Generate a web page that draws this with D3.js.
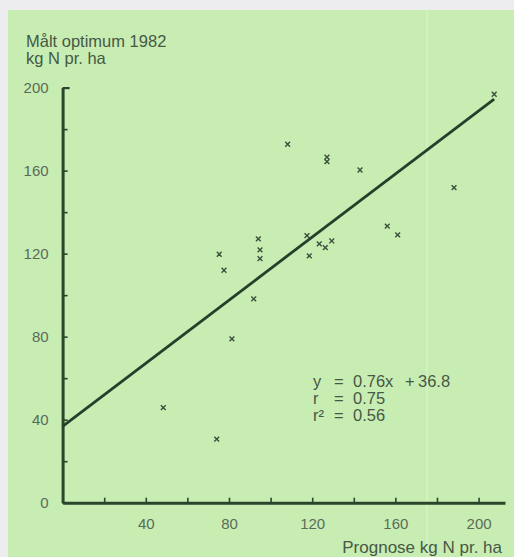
<!DOCTYPE html>
<html>
<head>
<meta charset="utf-8">
<script src="https://cdn.jsdelivr.net/npm/d3@7"></script>
<style>
  html, body { margin: 0; padding: 0; background: #ededf0; }
  svg { display: block; }
  text { font-family: "Liberation Sans", Arial, Helvetica, sans-serif; }
</style>
</head>
<body>
<svg id="chart" width="514" height="557"></svg>
<script>
// Prognosed vs measured nitrogen optimum (kg N per ha), 1982
const prognose = [108.2, 127.1, 127.1, 143.0, 156.1, 161.1, 94.1, 117.5, 123.4, 126.3, 129.4,
                  94.9, 94.9, 75.3, 77.6, 118.6, 91.9, 188.2, 207.5, 48.4, 74.1, 81.4];
const maalt    = [172.7, 166.5, 164.3, 160.3, 133.3, 129.0, 127.1, 128.7, 124.7, 122.9, 126.1,
                  121.8, 117.6, 119.7, 112.0, 118.9, 98.2, 151.8, 196.8, 45.8, 30.6, 78.9];

// Regression line y = slope * x + intercept
const slope = 0.76;
const intercept = 36.8;
const lineRange = [0, 207.5];

// Each statistic line: left-hand symbol and right-hand pieces with their x offsets
const statLines = [
  { lhs: "y", rhs: [["0.76x", 0], ["+", 52], ["36.8", 65]] },
  { lhs: "r", rhs: [["0.75", 0]] },
  { lhs: "r²", rhs: [["0.56", 0]] }
];

const yTicks = [0, 20, 40, 60, 80, 100, 120, 140, 160, 180, 200];
const xTicks = [20, 40, 60, 80, 100, 120, 140, 160, 180, 200];
const yTitle = ["Målt optimum 1982", "kg N pr. ha"];
const xTitle = "Prognose kg N pr. ha";

const svg = d3.select("#chart");
const ink = "#2b452b";
const textCol = "#475845";
const tickCol = "#5b6b58";

// paper panel
svg.append("rect").attr("x", 8).attr("y", 10).attr("width", 506).attr("height", 547)
  .attr("fill", "#c7edb3");
// faint fold line in the paper
svg.append("line").attr("x1", 427).attr("x2", 427).attr("y1", 10).attr("y2", 557)
  .attr("stroke", "#e2f4d6").attr("stroke-width", 1.2).attr("opacity", 0.8);

const x = d3.scaleLinear().domain([0, 212.7]).range([62.6, 505]);
const y = d3.scaleLinear().domain([0, 200]).range([502.7, 87.6]);

// y axis
const yAxis = d3.axisLeft(y)
  .tickValues(yTicks)
  .tickSizeInner(-5)
  .tickSizeOuter(0)
  .tickPadding(13)
  .tickFormat(d => d % 40 === 0 ? d : "");
const gy = svg.append("g").attr("transform", `translate(${x(0)},0)`).call(yAxis);
gy.attr("font-family", null).attr("font-size", null);
gy.select(".domain").attr("stroke", ink).attr("stroke-width", 3);
gy.selectAll(".tick line").attr("stroke", ink).attr("stroke-width", 1.6);
gy.selectAll(".tick").filter(d => d === 200).select("line").attr("x2", 7).attr("stroke-width", 2.2);
gy.selectAll(".tick text").attr("fill", tickCol).attr("font-size", 15).attr("x", -14);

// x axis
const xAxis = d3.axisBottom(x)
  .tickValues(xTicks)
  .tickSizeInner(-5)
  .tickSizeOuter(0)
  .tickFormat(d => d % 40 === 0 ? d : "");
const gx = svg.append("g").attr("transform", `translate(0,${y(0)})`).call(xAxis);
gx.attr("font-family", null).attr("font-size", null);
gx.select(".domain").attr("stroke", ink).attr("stroke-width", 3);
gx.selectAll(".tick line").attr("stroke", ink).attr("stroke-width", 1.6);
gx.selectAll(".tick text").attr("fill", tickCol).attr("font-size", 15)
  .attr("dy", null).attr("y", 26.5);

// axis titles
svg.append("text").attr("x", 26).attr("y", 47).attr("font-size", 16.5).attr("fill", textCol)
  .selectAll("tspan").data(yTitle).join("tspan")
  .attr("x", 26).attr("dy", (d, i) => i === 0 ? 0 : 17).text(d => d);
svg.append("text").attr("x", 502).attr("y", 552.5).attr("text-anchor", "end")
  .attr("font-size", 17).attr("fill", textCol).text(xTitle);

// regression line
svg.append("line")
  .attr("x1", x(lineRange[0])).attr("y1", y(slope * lineRange[0] + intercept))
  .attr("x2", x(lineRange[1])).attr("y2", y(slope * lineRange[1] + intercept))
  .attr("stroke", "#24402a").attr("stroke-width", 2.8);

// observations as small crosses
const pts = prognose.map((v, i) => ({ px: v, py: maalt[i] }));
const s = 2.4;
svg.append("g").selectAll("path").data(pts).join("path")
  .attr("d", d => {
    const cx = x(d.px), cy = y(d.py);
    return `M${cx - s},${cy - s}L${cx + s},${cy + s}M${cx - s},${cy + s}L${cx + s},${cy - s}`;
  })
  .attr("stroke", "#3c4f3c").attr("stroke-width", 1.4).attr("fill", "none");

// regression statistics
const stats = svg.append("g").attr("font-size", 16.5).attr("fill", textCol);
const rows = stats.selectAll("g").data(statLines).join("g")
  .attr("transform", (d, i) => `translate(0,${387 + i * 17})`);
rows.append("text").attr("x", 313).text(d => d.lhs);
rows.append("text").attr("x", 334).text("=");
rows.selectAll("text.rhs").data(d => d.rhs).join("text").attr("class", "rhs")
  .attr("x", d => 353 + d[1]).text(d => d[0]);
</script>
</body>
</html>
